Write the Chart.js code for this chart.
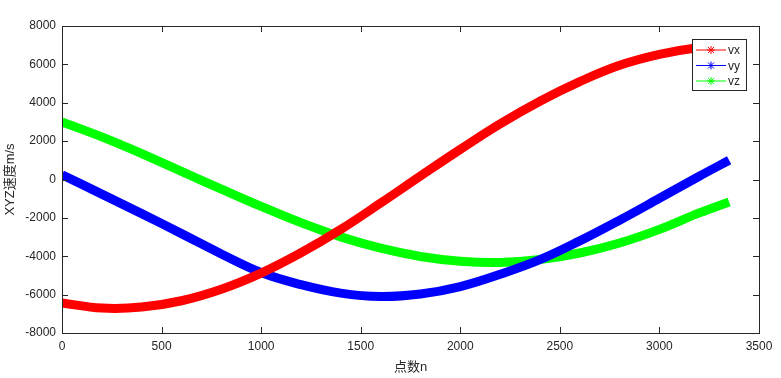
<!DOCTYPE html>
<html>
<head>
<meta charset="utf-8">
<script src="https://cdn.jsdelivr.net/npm/chart.js@4/dist/chart.umd.min.js"></script>
<style>
html,body{margin:0;padding:0;background:#fff;}
#wrap{width:781px;height:378px;position:relative;}
</style>
</head>
<body>
<div id="wrap"><canvas id="c" width="781" height="378"></canvas></div>
<script>
// ---- data ----
const pointIndex = [0,200,400,600,800,1000,1200,1400,1600,1800,2000,2200,2400,2600,2800,3000,3200,3350];
const vx = [-6430,-6700,-6650,-6320,-5720,-4880,-3820,-2600,-1230,180,1570,2900,4080,5100,5950,6520,6880,6980];
const vy = [250,-760,-1780,-2820,-3880,-4850,-5480,-5920,-6100,-5970,-5580,-4940,-4180,-3200,-2120,-980,170,1000];
const vz = [3000,2220,1350,420,-500,-1400,-2250,-2990,-3580,-4010,-4260,-4320,-4170,-3830,-3310,-2600,-1740,-1170];
const seriesNames = ['vx','vy','vz'];
const seriesColors = ['#ff0000','#0000ff','#00ff00'];
const xTitle = '点数n';
const yTitle = 'XYZ速度m/s';

const FONT = "'Liberation Sans', Arial, 'Noto Sans CJK SC', sans-serif";
const toPts = arr => arr.map((v,i)=>({x: pointIndex[i], y: v}));
const seriesValues = [vx, vy, vz];

const datasets = seriesNames.map((name,i)=>({
  label: name,
  data: toPts(seriesValues[i]),
  borderColor: seriesColors[i],
  backgroundColor: seriesColors[i],
  borderWidth: 9,
  pointRadius: 0,
  tension: 0.4,
  fill: false
}));

function drawStar(ctx, x, y, r){
  ctx.beginPath();
  ctx.moveTo(x-r,y); ctx.lineTo(x+r,y);
  ctx.moveTo(x,y-r); ctx.lineTo(x,y+r);
  ctx.moveTo(x-r*0.75,y-r*0.75); ctx.lineTo(x+r*0.75,y+r*0.75);
  ctx.moveTo(x-r*0.75,y+r*0.75); ctx.lineTo(x+r*0.75,y-r*0.75);
  ctx.stroke();
}

const framePlugin = {
  id: 'frame',
  afterDraw(chart){
    const ctx = chart.ctx;
    const a = chart.chartArea;
    const xs = chart.scales.x, ys = chart.scales.y;
    ctx.save();
    ctx.strokeStyle = '#262626';
    ctx.lineWidth = 1;
    ctx.strokeRect(Math.round(a.left)+0.5, Math.round(a.top)+0.5,
                   Math.round(a.right-a.left), Math.round(a.bottom-a.top));
    const tl = 6;
    ctx.beginPath();
    xs.ticks.forEach(t=>{
      const px = Math.round(xs.getPixelForValue(t.value))+0.5;
      ctx.moveTo(px, a.bottom); ctx.lineTo(px, a.bottom - tl);
      ctx.moveTo(px, a.top); ctx.lineTo(px, a.top + tl);
    });
    ys.ticks.forEach(t=>{
      const py = Math.round(ys.getPixelForValue(t.value))+0.5;
      ctx.moveTo(a.left, py); ctx.lineTo(a.left + tl, py);
      ctx.moveTo(a.right, py); ctx.lineTo(a.right - tl, py);
    });
    ctx.stroke();

    // legend box (inside plot, top right)
    const bx = 692, by = 39, bw = 54, bh = 51;
    ctx.fillStyle = '#fff';
    ctx.fillRect(bx, by, bw, bh);
    ctx.strokeStyle = '#262626';
    ctx.strokeRect(bx+0.5, by+0.5, bw, bh);
    chart.data.datasets.forEach((ds,i)=>{
      const yy = by + 11 + i*15.5;
      ctx.strokeStyle = ds.borderColor;
      ctx.lineWidth = 1;
      ctx.beginPath();
      ctx.moveTo(bx+4, yy); ctx.lineTo(bx+34, yy);
      ctx.stroke();
      drawStar(ctx, bx+19, yy, 4);
      ctx.fillStyle = '#262626';
      ctx.font = '12px ' + FONT;
      ctx.textBaseline = 'middle';
      ctx.textAlign = 'left';
      ctx.fillText(ds.label, bx+36, yy+1);
    });
    ctx.restore();
  }
};

new Chart(document.getElementById('c'), {
  type: 'line',
  data: { datasets },
  plugins: [framePlugin],
  options: {
    responsive: false,
    animation: false,
    devicePixelRatio: 1,
    layout: { padding: { top: 26, right: 22, left: 0, bottom: 0 } },
    plugins: { legend: { display: false }, tooltip: { enabled: false } },
    scales: {
      x: {
        type: 'linear',
        min: 0, max: 3500,
        border: { display: false },
        grid: { display: false, drawTicks: false },
        ticks: { stepSize: 500, color: '#262626', font: { size: 12, family: FONT }, padding: 6, maxRotation: 0,
                 callback: v => String(v) },
        title: { display: true, text: xTitle, color: '#262626', font: { size: 13, family: FONT }, padding: { top: 0, bottom: 3 } },
        afterFit(s){ s.height = 45; }
      },
      y: {
        type: 'linear',
        min: -8000, max: 8000,
        border: { display: false },
        grid: { display: false, drawTicks: false },
        ticks: { stepSize: 2000, color: '#262626', font: { size: 12, family: FONT }, padding: 6,
                 callback: v => String(v) },
        title: { display: true, text: yTitle, color: '#262626', font: { size: 13, family: FONT }, padding: { top: 3, bottom: 0 } },
        afterFit(s){ s.width = 62; }
      }
    }
  }
});
</script>
</body>
</html>
